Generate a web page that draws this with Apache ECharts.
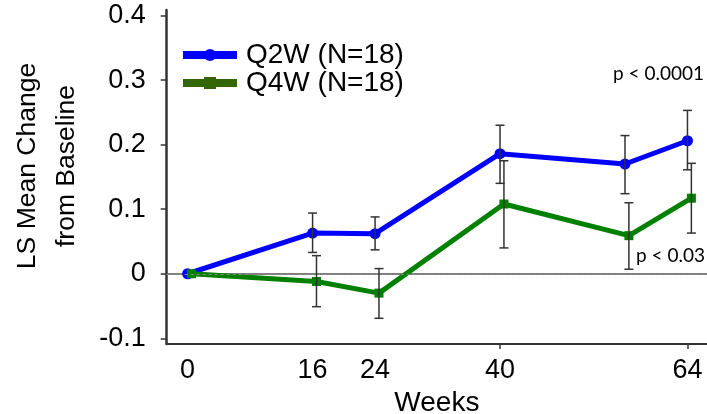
<!DOCTYPE html>
<html>
<head>
<meta charset="utf-8">
<script src="https://cdn.jsdelivr.net/npm/echarts@6/dist/echarts.min.js"></script>
<style>
html,body{margin:0;padding:0;background:#fff;}
#chart{width:707px;height:414px;}
</style>
</head>
<body>
<div id="chart"></div>
<script>
// ---- data ----
const weeks = [0, 16, 24, 40, 56, 64];
const xTickLabels = [0, 16, 24, 40, 64];
const yTickValues = [-0.1, 0, 0.1, 0.2, 0.3, 0.4];

const q2wName = 'Q2W (N=18)';
const q2w     = [0, 0.063, 0.062, 0.186, 0.170, 0.206];
const q2wLow  = [null, 0.033, 0.037, 0.140, 0.124, 0.161];
const q2wHigh = [null, 0.094, 0.088, 0.230, 0.214, 0.253];

const q4wName = 'Q4W (N=18)';
const q4w     = [0, -0.012, -0.030, 0.108, 0.059, 0.117];
const q4wLow  = [null, -0.051, -0.069, 0.040, 0.007, 0.063];
const q4wHigh = [null, 0.028, 0.008, 0.175, 0.110, 0.171];

const pLabelTop = 'p < 0.0001';
const pLabelBottom = 'p < 0.03';

// ---- styling ----
const FONT = 'Liberation Sans';
const blue = '#0000ff';
const green = '#008000';
const legendGreen = '#336600';
const dodge = 0.5; // horizontal dodge (weeks) of the Q4W series

function pairs(xs, ys, off) { return xs.map((x, i) => [x + off, ys[i]]); }
function errData(xs, lo, hi, off) {
  const out = [];
  xs.forEach((x, i) => { if (lo[i] != null) out.push([x + off, lo[i], hi[i]]); });
  return out;
}
function renderErr(params, api) {
  const x = api.value(0);
  const a = api.coord([x, api.value(1)]);
  const b = api.coord([x, api.value(2)]);
  const hw = 4.5;
  const st = { stroke: '#333', lineWidth: 1.5 };
  return {
    type: 'group',
    children: [
      { type: 'line', shape: { x1: a[0], y1: a[1], x2: b[0], y2: b[1] }, style: st },
      { type: 'line', shape: { x1: a[0] - hw, y1: a[1], x2: a[0] + hw, y2: a[1] }, style: st },
      { type: 'line', shape: { x1: b[0] - hw, y1: b[1], x2: b[0] + hw, y2: b[1] }, style: st }
    ]
  };
}

const chart = echarts.init(document.getElementById('chart'), null, { renderer: 'canvas' });
const xMin = -2.68, xMax = 66.5;
chart.setOption({
  animation: false,
  backgroundColor: '#fff',
  grid: { left: 166.7, right: 0, top: 10, bottom: 70, containLabel: false, outerBoundsMode: 'none' },
  legend: {
    orient: 'vertical', left: 179, top: 41, padding: 0,
    itemWidth: 54, itemHeight: 15, itemGap: 0,
    lineStyle: { width: 8 },
    textStyle: { fontSize: 28, fontFamily: FONT, color: '#000', lineHeight: 27, padding: [0, 0, 0, 4] },
    data: [
      { name: q2wName, itemStyle: { color: blue }, lineStyle: { color: blue, width: 8 } },
      { name: q4wName, itemStyle: { color: legendGreen }, lineStyle: { color: legendGreen, width: 8 } }
    ]
  },
  xAxis: [{
    type: 'value', min: xMin, max: xMax,
    name: 'Weeks', nameLocation: 'middle', nameGap: 42,
    nameTextStyle: { fontSize: 28, fontFamily: FONT, color: '#000' },
    axisLine: { show: true, onZero: false, lineStyle: { color: '#333', width: 2 } },
    axisTick: { show: true, inside: false, length: 5, customValues: [40, 64], lineStyle: { color: '#333', width: 1.5 } },
    axisLabel: { customValues: xTickLabels, margin: 13, fontSize: 27, fontFamily: FONT, color: '#000' },
    splitLine: { show: false }
  }, {
    type: 'value', min: xMin, max: xMax, position: 'top',
    axisLine: { show: true, lineStyle: { color: '#555', width: 1.5 } },
    axisTick: { show: false }, axisLabel: { show: false }, splitLine: { show: false }
  }],
  yAxis: {
    type: 'value', min: -0.1088, max: 0.4085,
    axisLine: { show: true, onZero: false, lineStyle: { color: '#333', width: 2.5 } },
    axisTick: { show: true, length: 6, customValues: yTickValues, lineStyle: { color: '#333', width: 1.5 } },
    axisLabel: {
      customValues: yTickValues, margin: 21, fontSize: 27, fontFamily: FONT, color: '#000',
      formatter: v => String(Math.round(v * 10) / 10)
    },
    splitLine: { show: false }
  },
  graphic: [
    { type: 'text', x: 47, y: 166, rotation: Math.PI / 2,
      style: { text: 'LS Mean Change\nfrom Baseline', fontSize: 26.5, fontFamily: FONT, fill: '#000',
               align: 'center', verticalAlign: 'middle', lineHeight: 39 } },
    { type: 'text', x: 613, y: 74,
      style: { text: pLabelTop, fontSize: 19, fontFamily: 'Lato', fill: '#000',
               align: 'left', verticalAlign: 'middle' } },
    { type: 'text', x: 636, y: 256,
      style: { text: pLabelBottom, fontSize: 19, fontFamily: 'Lato', fill: '#000',
               align: 'left', verticalAlign: 'middle' } }
  ],
  series: [
    {
      name: q2wName, type: 'line', z: 3,
      data: pairs(weeks, q2w, 0),
      symbol: 'circle', symbolSize: 11,
      itemStyle: { color: blue }, lineStyle: { color: blue, width: 5 },
      markLine: {
        silent: true, symbol: 'none', label: { show: false },
        lineStyle: { color: '#888', width: 1, type: [3, 3] },
        data: [{ yAxis: 0 }]
      }
    },
    {
      name: q4wName, type: 'line', z: 4,
      data: pairs(weeks, q4w, dodge),
      symbol: 'rect', symbolSize: 9,
      itemStyle: { color: green }, lineStyle: { color: green, width: 5 }
    },
    { name: q2wName + ' SE', type: 'custom', z: 6, renderItem: renderErr,
      data: errData(weeks, q2wLow, q2wHigh, 0), encode: { x: 0, y: [1, 2] } },
    { name: q4wName + ' SE', type: 'custom', z: 6, renderItem: renderErr,
      data: errData(weeks, q4wLow, q4wHigh, dodge), encode: { x: 0, y: [1, 2] } }
  ]
});
</script>
</body>
</html>
